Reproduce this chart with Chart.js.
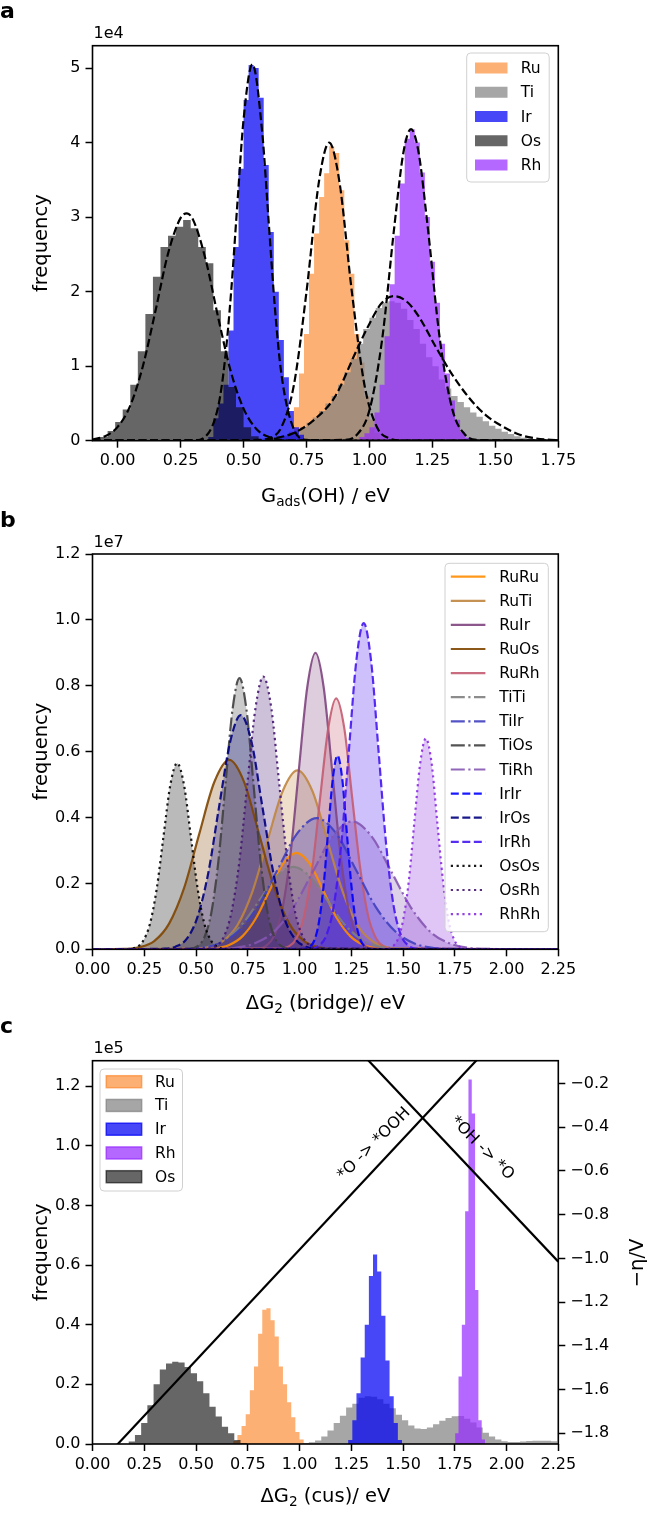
<!DOCTYPE html>
<html>
<head>
<meta charset="utf-8">
<script src="https://cdn.jsdelivr.net/npm/chart.js@4.4.0/dist/chart.umd.min.js"></script>
<style>
  body { margin: 0; background: #fff; width: 648px; height: 1528px; overflow: hidden; }
  canvas { position: absolute; left: 0; }
</style>
</head>
<body>
<canvas id="chart_a" width="648" height="510" style="top:0px"></canvas>
<canvas id="chart_b" width="648" height="505" style="top:510px"></canvas>
<canvas id="chart_c" width="648" height="513" style="top:1015px"></canvas>
<script>
// ---------- panel a : G_ads(OH), frequency in 1e4 ----------
var ticksXA = [0, 0.25, 0.5, 0.75, 1.0, 1.25, 1.5, 1.75];
var ticksYA = [0, 1, 2, 3, 4, 5];

var ruAX = [0.65,0.67,0.69,0.71,0.73,0.75,0.77,0.79,0.81,0.83,0.85,0.87,0.89,0.91,0.93,0.95,0.97,0.99,1.01,1.03,1.05,1.07];
var ruAY = [0,0.05,0.12,0.45,0.9,1.43,2.24,2.78,3.27,3.59,3.95,3.86,3.36,2.69,2.24,1.43,1.05,0.6,0.28,0.1,0.03,0];
var tiAX = [0.5375,0.5625,0.5875,0.6125,0.6375,0.6625,0.6875,0.7125,0.7375,0.7625,0.7875,0.8125,0.8375,0.8625,0.8875,0.9125,0.9375,0.9625,0.9875,1.0125,1.0375,1.0625,1.0875,1.1125,1.1375,1.1625,1.1875,1.2125,1.2375,1.2625,1.2875,1.3125,1.3375,1.3625,1.3875,1.4125,1.4375,1.4625,1.4875,1.5125,1.5375,1.5625,1.5875,1.6125,1.6375,1.6625,1.6875,1.7125,1.7375,1.7625,1.7875];
var tiAY = [0,0.02,0.03,0.04,0.05,0.07,0.09,0.13,0.18,0.24,0.31,0.4,0.5,0.6,0.75,0.92,1.1,1.3,1.5,1.65,1.78,1.85,1.87,1.85,1.77,1.62,1.5,1.3,1.12,1.0,0.82,0.7,0.6,0.52,0.45,0.38,0.32,0.26,0.2,0.16,0.12,0.09,0.06,0.04,0.03,0.02,0.015,0.01,0.008,0.005,0];
var irAX = [0.35,0.37,0.39,0.41,0.43,0.45,0.47,0.49,0.51,0.53,0.55,0.57,0.59,0.61,0.63,0.65,0.67,0.69,0.71,0.73,0.75,0.77];
var irAY = [0,0.05,0.3,0.5,0.75,1.48,2.6,3.65,4.57,5.04,5.0,4.6,3.7,2.8,2.0,1.35,0.85,0.4,0.18,0.08,0.02,0];
var osAX = [-0.115,-0.085,-0.055,-0.025,0.005,0.035,0.065,0.095,0.125,0.155,0.185,0.215,0.245,0.275,0.305,0.335,0.365,0.395,0.425,0.455,0.485,0.515,0.545,0.575,0.605];
var osAY = [0,0.01,0.05,0.13,0.25,0.42,0.75,1.2,1.7,2.2,2.6,2.75,2.87,2.96,2.85,2.6,2.38,1.75,1.2,0.72,0.45,0.18,0.06,0.01,0];
var rhAX = [0.95,0.97,0.99,1.01,1.03,1.05,1.07,1.09,1.11,1.13,1.15,1.17,1.19,1.21,1.23,1.25,1.27,1.29,1.31,1.33,1.35,1.37,1.39,1.41];
var rhAY = [0,0.05,0.1,0.18,0.38,0.75,1.4,2.1,2.75,3.45,4.05,4.18,4.0,3.6,3.0,2.4,1.85,1.3,0.9,0.54,0.28,0.12,0.04,0];

// fitted curves (dashed)
var fitRuX = [-0.1,0.55,0.6,0.65,0.7,0.75,0.8,0.84,0.88,0.93,0.98,1.03,1.08,1.13,1.75];
var fitRuY = [0,0.003,0.03,0.18,0.75,2.0,3.49,4.0,3.49,2.0,0.75,0.18,0.03,0.003,0];
var fitTiX = [-0.1,0.55,0.613,0.697,0.78,0.863,0.947,0.997,1.047,1.097,1.147,1.197,1.263,1.33,1.397,1.463,1.53,1.597,1.663,1.75];
var fitTiY = [0,0.01,0.03,0.1,0.28,0.59,1.2,1.55,1.84,1.94,1.87,1.66,1.26,0.88,0.57,0.34,0.19,0.08,0.03,0.005];
var fitIrX = [-0.1,0.3,0.35,0.4,0.425,0.45,0.475,0.5,0.535,0.575,0.6,0.625,0.65,0.7,0.75,0.8,1.75];
var fitIrY = [0,0.004,0.06,0.47,1.05,1.97,3.16,4.31,5.05,4.1,2.92,1.76,0.9,0.15,0.01,0,0];
var fitOsX = [-0.1,-0.05,0,0.05,0.1,0.15,0.2,0.25,0.275,0.3,0.35,0.4,0.45,0.5,0.55,0.6,0.65,0.7,1.75];
var fitOsY = [0.016,0.06,0.186,0.47,1.0,1.74,2.51,2.99,3.05,2.96,2.42,1.64,0.92,0.43,0.16,0.05,0.01,0,0];
var fitRhX = [-0.1,0.9,0.95,1.0,1.05,1.1,1.135,1.165,1.195,1.23,1.28,1.33,1.38,1.43,1.75];
var fitRhY = [0,0.01,0.08,0.41,1.35,2.91,3.87,4.18,3.87,2.91,1.35,0.41,0.08,0.01,0];

// ---------- panel b : dG2 (bridge), frequency in 1e7 ----------
var ticksXB = [0, 0.25, 0.5, 0.75, 1.0, 1.25, 1.5, 1.75, 2.0, 2.25];
var ticksYB = [0, 0.2, 0.4, 0.6, 0.8, 1.0, 1.2];
var pairNames = ['RuRu','RuTi','RuIr','RuOs','RuRh','TiTi','TiIr','TiOs','TiRh','IrIr','IrOs','IrRh','OsOs','OsRh','RhRh'];

var bRuRuX = [0,0.53,0.595,0.66,0.725,0.79,0.855,0.92,0.985,1.05,1.115,1.18,1.245,1.31,1.375,1.44,2.25];
var bRuRuY = [0,0.001,0.003,0.013,0.04,0.095,0.178,0.259,0.293,0.259,0.178,0.095,0.04,0.013,0.003,0.001,0];
var bRuTiX = [0,0.483,0.555,0.628,0.7,0.773,0.845,0.918,0.99,1.063,1.135,1.208,1.28,1.353,1.425,1.498,2.25];
var bRuTiY = [0,0.001,0.006,0.024,0.073,0.176,0.329,0.479,0.543,0.479,0.329,0.176,0.073,0.024,0.006,0.001,0];
var bRuIrX = [0,0.797,0.837,0.877,0.917,0.957,0.997,1.037,1.077,1.117,1.157,1.197,1.237,1.277,1.317,1.357,2.25];
var bRuIrY = [0,0.002,0.01,0.04,0.122,0.292,0.546,0.794,0.9,0.794,0.546,0.292,0.122,0.04,0.01,0.002,0];
var bRuOsX = [0,0.153,0.225,0.298,0.37,0.443,0.515,0.588,0.66,0.733,0.805,0.878,0.95,1.023,1.095,1.168,2.25];
var bRuOsY = [0,0.001,0.006,0.025,0.078,0.187,0.349,0.507,0.575,0.507,0.349,0.187,0.078,0.025,0.006,0.001,0];
var bRuRhX = [0,0.907,0.946,0.985,1.023,1.062,1.1,1.139,1.177,1.216,1.254,1.293,1.331,1.37,1.408,1.447,2.25];
var bRuRhY = [0,0.002,0.008,0.033,0.103,0.247,0.462,0.672,0.762,0.672,0.462,0.247,0.103,0.033,0.008,0.002,0];
var bTiTiX = [0,0.41,0.49,0.57,0.65,0.73,0.81,0.89,0.97,1.05,1.13,1.21,1.29,1.37,1.45,1.53,2.25];
var bTiTiY = [0,0.001,0.003,0.011,0.034,0.081,0.152,0.221,0.25,0.221,0.152,0.081,0.034,0.011,0.003,0.001,0];
var bTiIrX = [0,0.418,0.513,0.608,0.703,0.798,0.893,0.988,1.083,1.178,1.273,1.368,1.463,1.558,1.653,1.748,2.25];
var bTiIrY = [0,0.001,0.004,0.017,0.054,0.129,0.241,0.351,0.398,0.351,0.241,0.129,0.054,0.017,0.004,0.001,0];
var bTiOsX = [0,0.472,0.506,0.54,0.574,0.608,0.642,0.676,0.71,0.744,0.778,0.812,0.846,0.88,0.914,0.948,2.25];
var bTiOsY = [0,0.002,0.009,0.036,0.111,0.267,0.499,0.726,0.823,0.726,0.499,0.267,0.111,0.036,0.009,0.002,0];
var bTiRhX = [0,0.589,0.684,0.779,0.874,0.969,1.064,1.159,1.254,1.349,1.444,1.539,1.634,1.729,1.824,1.919,2.25];
var bTiRhY = [0,0.001,0.004,0.017,0.052,0.126,0.235,0.342,0.388,0.342,0.235,0.126,0.052,0.017,0.004,0.001,0];
var bIrIrX = [0,1.026,1.048,1.071,1.093,1.116,1.138,1.161,1.183,1.206,1.228,1.251,1.273,1.296,1.318,1.341,2.25];
var bIrIrY = [0,0.001,0.007,0.026,0.08,0.191,0.357,0.519,0.588,0.519,0.357,0.191,0.08,0.026,0.007,0.001,0];
var bIrOsX = [0,0.349,0.401,0.454,0.506,0.559,0.611,0.664,0.716,0.769,0.821,0.874,0.926,0.979,1.031,1.084,2.25];
var bIrOsY = [0,0.002,0.008,0.031,0.096,0.231,0.431,0.627,0.711,0.627,0.431,0.231,0.096,0.031,0.008,0.002,0];
var bIrRhX = [0,1.058,1.094,1.13,1.166,1.202,1.238,1.274,1.31,1.346,1.382,1.418,1.454,1.49,1.526,1.562,2.25];
var bIrRhY = [0,0.002,0.011,0.043,0.134,0.321,0.6,0.874,0.99,0.874,0.6,0.321,0.134,0.043,0.011,0.002,0];
var bOsOsX = [0,0.178,0.211,0.244,0.277,0.31,0.343,0.376,0.409,0.442,0.475,0.508,0.541,0.574,0.607,0.64,2.25];
var bOsOsY = [0,0.001,0.006,0.025,0.076,0.183,0.343,0.499,0.565,0.499,0.343,0.183,0.076,0.025,0.006,0.001,0];
var bOsRhX = [0,0.556,0.594,0.633,0.671,0.71,0.748,0.787,0.825,0.864,0.902,0.941,0.979,1.018,1.056,1.095,2.25];
var bOsRhY = [0,0.002,0.009,0.036,0.112,0.269,0.502,0.731,0.828,0.731,0.502,0.269,0.112,0.036,0.009,0.002,0];
var bRhRhX = [0,1.418,1.445,1.473,1.5,1.528,1.555,1.583,1.61,1.638,1.665,1.693,1.72,1.748,1.775,1.803,2.25];
var bRhRhY = [0,0.001,0.007,0.028,0.087,0.208,0.388,0.565,0.64,0.565,0.388,0.208,0.087,0.028,0.007,0.001,0];

// ---------- panel c : dG2 (cus), frequency in 1e5, -eta/V on right ----------
var ticksXC = [0, 0.25, 0.5, 0.75, 1.0, 1.25, 1.5, 1.75, 2.0, 2.25];
var ticksYC = [0, 0.2, 0.4, 0.6, 0.8, 1.0, 1.2];
var ticksEta = [-1.8, -1.6, -1.4, -1.2, -1.0, -0.8, -0.6, -0.4, -0.2];

var ruCX = [0.67,0.69,0.71,0.73,0.75,0.77,0.79,0.81,0.83,0.85,0.87,0.89,0.91,0.93,0.95,0.97,0.99,1.01,1.03];
var ruCY = [0,0.01,0.03,0.06,0.1,0.18,0.26,0.37,0.45,0.455,0.415,0.36,0.26,0.2,0.14,0.09,0.04,0.015,0];
var tiCX = [1.0,1.03,1.06,1.09,1.12,1.15,1.18,1.21,1.24,1.27,1.3,1.33,1.36,1.39,1.42,1.45,1.48,1.51,1.54,1.57,1.6,1.63,1.66,1.69,1.72,1.75,1.78,1.81,1.84,1.87,1.9,1.93,1.96,1.99,2.02,2.05,2.08,2.11,2.14,2.17,2.2,2.23,2.26];
var tiCY = [0,0.003,0.006,0.012,0.025,0.045,0.07,0.095,0.122,0.135,0.155,0.16,0.158,0.15,0.135,0.12,0.098,0.08,0.062,0.052,0.05,0.055,0.066,0.078,0.087,0.093,0.094,0.085,0.072,0.055,0.038,0.025,0.015,0.009,0.007,0.007,0.008,0.01,0.011,0.011,0.011,0.009,0];
var irCX = [1.225,1.245,1.265,1.285,1.305,1.325,1.345,1.365,1.385,1.405,1.425,1.445,1.465,1.485,1.505];
var irCY = [0,0.013,0.08,0.17,0.29,0.4,0.563,0.635,0.578,0.43,0.28,0.16,0.07,0.013,0];
var rhCX = [1.744,1.76,1.776,1.792,1.808,1.824,1.84,1.856,1.872,1.888,1.904];
var rhCY = [0,0.036,0.226,0.4,0.78,1.222,1.108,0.516,0.08,0.015,0];
var osCX = [0.16,0.19,0.22,0.25,0.28,0.31,0.34,0.37,0.4,0.43,0.46,0.49,0.52,0.55,0.58,0.61,0.64,0.67,0.7,0.73,0.76];
var osCY = [0,0.008,0.03,0.07,0.13,0.2,0.25,0.27,0.276,0.273,0.258,0.237,0.21,0.17,0.125,0.092,0.058,0.036,0.013,0.003,0];

// limiting potential lines
var oohX = [0, 2.25];
var oohY = [-1.973, 0.306];
var ohX = [1.2, 2.25];
var ohY = [0.038, -1.015];

// colours
var colRu = 'rgba(252,127,30,0.62)';
var colTi = 'rgba(128,128,128,0.7)';
var colIr = 'rgba(0,0,245,0.72)';
var colOs = 'rgba(0,0,0,0.6)';
var colRh = 'rgba(150,40,255,0.7)';
var pairRGB = ['255,140,0','192,134,64','128,70,128','128,70,0','196,92,113','128,128,128','64,64,192','64,64,64','133,86,177','0,0,255','0,0,128','69,22,241','0,0,0','69,22,113','138,43,226'];
var pairDash = ['s','s','s','s','s','dd','dd','dd','dd','d','d','d','o','o','o'];

var FONT = '"DejaVu Sans", sans-serif';
Chart.defaults.font.family = FONT;
Chart.defaults.font.size = 16;
Chart.defaults.color = '#000';

function toPoints(xs, ys) {
  var out = [];
  for (var i = 0; i < xs.length; i++) out.push({x: xs[i], y: ys[i]});
  return out;
}

function dashOf(kind) {
  if (kind == 'dd') return [14, 3.5, 2.2, 3.5];
  if (kind == 'd') return [8, 3.5];
  if (kind == 'o') return [2.2, 3.6];
  return [];
}

function histSet(xs, ys, col, order) {
  return { data: toPoints(xs, ys), stepped: 'middle', fill: 'origin', backgroundColor: col,
           borderColor: 'rgba(0,0,0,0)', borderWidth: 0, pointRadius: 0, order: order };
}

function fitSet(xs, ys) {
  return { data: toPoints(xs, ys), borderColor: '#000', borderWidth: 2.2, borderDash: [8, 3.5],
           cubicInterpolationMode: 'monotone', fill: false, pointRadius: 0, order: 0 };
}

function axisX(ticks, min, max, h, dec) {
  return {
    type: 'linear', min: min, max: max,
    afterBuildTicks: function(s) { s.ticks = ticks.map(function(v) { return {value: v}; }); },
    afterFit: function(s) { s.height = h; },
    ticks: { autoSkip: false, maxRotation: 0, padding: 4, font: {size: 16},
             callback: function(v) { return v.toFixed(dec); } },
    grid: { display: true, drawOnChartArea: false, drawTicks: true, tickLength: 7, tickWidth: 1.5, tickColor: '#000' },
    border: { display: false }
  };
}

function axisY(ticks, min, max, w, pos, fmt) {
  return {
    type: 'linear', position: pos, min: min, max: max,
    afterBuildTicks: function(s) { s.ticks = ticks.map(function(v) { return {value: v}; }); },
    afterFit: function(s) { s.width = w; },
    ticks: { autoSkip: false, padding: 5, font: {size: 16}, callback: fmt },
    grid: { display: true, drawOnChartArea: false, drawTicks: true, tickLength: 7, tickWidth: 1.5, tickColor: '#000' },
    border: { display: false }
  };
}

// text with an optional subscript part
function drawRich(ctx, parts, cx, y, size) {
  var total = 0, i;
  for (i = 0; i < parts.length; i++) {
    ctx.font = (parts[i][1] ? size * 0.7 : size) + 'px ' + FONT;
    total += ctx.measureText(parts[i][0]).width;
  }
  var x = cx - total / 2;
  ctx.textAlign = 'left';
  ctx.textBaseline = 'alphabetic';
  for (i = 0; i < parts.length; i++) {
    ctx.font = (parts[i][1] ? size * 0.7 : size) + 'px ' + FONT;
    ctx.fillText(parts[i][0], x, parts[i][1] ? y + size * 0.22 : y);
    x += ctx.measureText(parts[i][0]).width;
  }
}

function drawLegend(ctx, lg) {
  ctx.save();
  ctx.beginPath();
  ctx.roundRect(lg.x, lg.y, lg.w, lg.h, 4);
  ctx.fillStyle = 'rgba(255,255,255,0.8)';
  ctx.fill();
  ctx.strokeStyle = '#d0d0d0';
  ctx.lineWidth = 1;
  ctx.stroke();
  ctx.font = '15.5px ' + FONT;
  ctx.textBaseline = 'middle';
  ctx.textAlign = 'left';
  for (var i = 0; i < lg.names.length; i++) {
    var y = lg.y0 + i * lg.dy;
    if (lg.kind == 'patch') {
      ctx.fillStyle = lg.colors[i];
      ctx.fillRect(lg.sx, y - lg.sh / 2, lg.sw, lg.sh);
      if (lg.edge) {
        ctx.strokeStyle = lg.colors[i];
        ctx.lineWidth = 1.5;
        ctx.strokeRect(lg.sx, y - lg.sh / 2, lg.sw, lg.sh);
      }
    } else {
      ctx.strokeStyle = lg.colors[i];
      ctx.lineWidth = 2.2;
      ctx.setLineDash(lg.dashes[i]);
      ctx.beginPath();
      ctx.moveTo(lg.sx, y);
      ctx.lineTo(lg.sx + lg.sw, y);
      ctx.stroke();
      ctx.setLineDash([]);
    }
    ctx.fillStyle = '#000';
    ctx.fillText(lg.names[i], lg.tx, y + 1);
  }
  ctx.restore();
}

function decor(cfg) {
  return {
    id: 'decor',
    afterDraw: function(chart) {
      var ctx = chart.ctx, a = chart.chartArea;
      ctx.save();
      ctx.strokeStyle = '#000';
      ctx.lineWidth = 1.6;
      ctx.strokeRect(a.left, a.top, a.right - a.left, a.bottom - a.top);
      ctx.fillStyle = '#000';
      ctx.textAlign = 'left';
      ctx.textBaseline = 'alphabetic';
      ctx.font = 'bold 22px ' + FONT;
      ctx.fillText(cfg.letter, 0, cfg.letterY);
      ctx.font = '16px ' + FONT;
      ctx.fillText(cfg.offset, a.left + 1, cfg.offsetY);
      drawRich(ctx, cfg.xTitle, (a.left + a.right) / 2, cfg.xTitleY, 19.5);
      ctx.save();
      ctx.translate(42, (a.top + a.bottom) / 2);
      ctx.rotate(-Math.PI / 2);
      ctx.font = '19.5px ' + FONT;
      ctx.textAlign = 'center';
      ctx.textBaseline = 'middle';
      ctx.fillText('frequency', 0, 0);
      ctx.restore();
      if (cfg.extra) cfg.extra(ctx, chart);
      drawLegend(ctx, cfg.legend);
      ctx.restore();
    }
  };
}

// ---------- chart a ----------
new Chart(document.getElementById('chart_a').getContext('2d'), {
  type: 'line',
  data: {
    datasets: [
      histSet(ruAX, ruAY, colRu, 5),
      histSet(tiAX, tiAY, colTi, 4),
      histSet(irAX, irAY, colIr, 3),
      histSet(osAX, osAY, colOs, 2),
      histSet(rhAX, rhAY, colRh, 1),
      fitSet(fitRuX, fitRuY),
      fitSet(fitTiX, fitTiY),
      fitSet(fitIrX, fitIrY),
      fitSet(fitOsX, fitOsY),
      fitSet(fitRhX, fitRhY)
    ]
  },
  options: {
    responsive: false, animation: false,
    layout: { padding: { top: 45.7, right: 89.7, left: 0, bottom: 0 } },
    plugins: { legend: { display: false }, tooltip: { enabled: false } },
    scales: {
      x: axisX(ticksXA, -0.1, 1.75, 69.3, 2),
      y: axisY(ticksYA, 0, 5.3, 92.5, 'left', function(v) { return v.toFixed(0); })
    }
  },
  plugins: [decor({
    letter: 'a', letterY: 18, offset: '1e4', offsetY: 38,
    xTitle: [['G', false], ['ads', true], ['(OH) / eV', false]], xTitleY: 502,
    legend: { kind: 'patch', x: 466.7, y: 53, w: 82.5, h: 129, y0: 68, dy: 24.25,
              sx: 475, sw: 32.5, sh: 11, tx: 520.8,
              names: ['Ru', 'Ti', 'Ir', 'Os', 'Rh'], colors: [colRu, colTi, colIr, colOs, colRh] }
  })]
});

// ---------- chart b ----------
var pairX = [bRuRuX,bRuTiX,bRuIrX,bRuOsX,bRuRhX,bTiTiX,bTiIrX,bTiOsX,bTiRhX,bIrIrX,bIrOsX,bIrRhX,bOsOsX,bOsRhX,bRhRhX];
var pairY = [bRuRuY,bRuTiY,bRuIrY,bRuOsY,bRuRhY,bTiTiY,bTiIrY,bTiOsY,bTiRhY,bIrIrY,bIrOsY,bIrRhY,bOsOsY,bOsRhY,bRhRhY];
var setsB = [], legColB = [], legDashB = [];
for (var i = 0; i < pairNames.length; i++) {
  setsB.push({
    data: toPoints(pairX[i], pairY[i]),
    borderColor: 'rgba(' + pairRGB[i] + ',0.9)',
    backgroundColor: 'rgba(' + pairRGB[i] + ',0.27)',
    borderWidth: 2.2, borderDash: dashOf(pairDash[i]),
    cubicInterpolationMode: 'monotone', fill: 'origin', pointRadius: 0,
    order: pairNames.length - i
  });
  legColB.push('rgba(' + pairRGB[i] + ',0.9)');
  legDashB.push(dashOf(pairDash[i]));
}

new Chart(document.getElementById('chart_b').getContext('2d'), {
  type: 'line',
  data: { datasets: setsB },
  options: {
    responsive: false, animation: false,
    layout: { padding: { top: 44, right: 89.7, left: 0, bottom: 0 } },
    plugins: { legend: { display: false }, tooltip: { enabled: false }, filler: { drawTime: 'beforeDatasetsDraw' } },
    scales: {
      x: axisX(ticksXB, 0, 2.25, 65.7, 2),
      y: axisY(ticksYB, 0, 1.2, 92.5, 'left', function(v) { return v.toFixed(1); })
    }
  },
  plugins: [decor({
    letter: 'b', letterY: 17, offset: '1e7', offsetY: 36.7,
    xTitle: [['\u0394G', false], ['2', true], [' (bridge)/ eV', false]], xTitleY: 499,
    legend: { kind: 'line', x: 445, y: 53.3, w: 103.3, h: 368.4, y0: 66.7, dy: 24.1,
              sx: 450.8, sw: 34.6, tx: 499.2, names: pairNames, colors: legColB, dashes: legDashB }
  })]
});

// ---------- chart c ----------
function drawNotes(ctx, chart) {
  var sx = chart.scales.x, sy = chart.scales.y1;
  ctx.fillStyle = '#000';
  ctx.font = '16px ' + FONT;
  ctx.textAlign = 'center';
  ctx.textBaseline = 'middle';
  ctx.save();
  ctx.translate(sx.getPixelForValue(1.36), sy.getPixelForValue(-0.477));
  ctx.rotate(-Math.PI / 4);
  ctx.fillText('*O -> *OOH', 0, 0);
  ctx.restore();
  ctx.save();
  ctx.translate(sx.getPixelForValue(1.882), sy.getPixelForValue(-0.496));
  ctx.rotate(Math.PI / 4);
  ctx.fillText('*OH -> *O', 0, 0);
  ctx.restore();
  ctx.save();
  ctx.translate(637.5, 248);
  ctx.rotate(-Math.PI / 2);
  ctx.font = '19.5px ' + FONT;
  ctx.fillText('\u2212\u03b7/V', 0, 0);
  ctx.restore();
}

new Chart(document.getElementById('chart_c').getContext('2d'), {
  type: 'line',
  data: {
    datasets: [
      histSet(ruCX, ruCY, colRu, 6),
      histSet(tiCX, tiCY, colTi, 5),
      histSet(irCX, irCY, colIr, 4),
      histSet(rhCX, rhCY, colRh, 3),
      histSet(osCX, osCY, colOs, 2),
      { data: toPoints(oohX, oohY), yAxisID: 'y1', borderColor: '#000', borderWidth: 2.2, pointRadius: 0, fill: false, order: 0 },
      { data: toPoints(ohX, ohY), yAxisID: 'y1', borderColor: '#000', borderWidth: 2.2, pointRadius: 0, fill: false, order: 0 }
    ]
  },
  options: {
    responsive: false, animation: false,
    layout: { padding: { top: 45.7, right: 0, left: 0, bottom: 0 } },
    plugins: { legend: { display: false }, tooltip: { enabled: false } },
    scales: {
      x: axisX(ticksXC, 0, 2.25, 84, 2),
      y: axisY(ticksYC, 0, 1.285, 92.5, 'left', function(v) { return v.toFixed(1); }),
      y1: axisY(ticksEta, -1.849, -0.096, 89.7, 'right', function(v) { return (v < 0 ? '\u2212' : '') + Math.abs(v).toFixed(1); })
    }
  },
  plugins: [decor({
    letter: 'c', letterY: 18.3, offset: '1e5', offsetY: 38.3,
    xTitle: [['\u0394G', false], ['2', true], [' (cus)/ eV', false]], xTitleY: 487,
    extra: drawNotes,
    legend: { kind: 'patch', edge: true, x: 100, y: 54, w: 82.5, h: 122, y0: 66.7, dy: 23.75,
              sx: 106.25, sw: 35.4, sh: 12, tx: 155,
              names: ['Ru', 'Ti', 'Ir', 'Rh', 'Os'], colors: [colRu, colTi, colIr, colRh, colOs] }
  })]
});
</script>
</body>
</html>
